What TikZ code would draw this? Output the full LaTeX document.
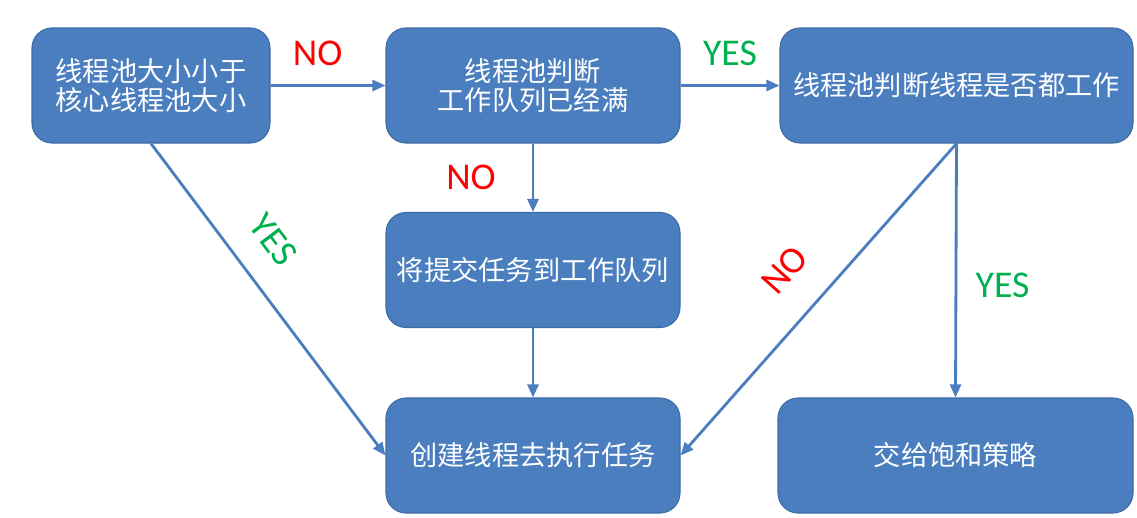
\documentclass[tikz,border=0pt]{standalone}
\usepackage{fontspec}
\setmainfont{Carlito}
\newfontfamily\cjk{Noto Sans CJK SC}
\usepackage{tikz}
\usetikzlibrary{shapes,arrows.meta,positioning,calc}
\definecolor{boxblue}{RGB}{74,126,191}
\definecolor{boxedge}{RGB}{60,106,164}
\definecolor{noRed}{RGB}{255,0,0}
\definecolor{yesGreen}{RGB}{0,176,80}

\begin{document}
\begin{tikzpicture}[
    stepbox/.style={fill=boxblue, draw=boxedge, line width=0.6pt, rounded corners=0.4cm,
        minimum height=2.3cm, align=center, text=white,
        font=\cjk\fontsize{15.5}{16.5}\selectfont},
    flow/.style={draw=boxblue, line width=1.6pt, -{Triangle[length=2.6mm,width=2.2mm]}},
    nolbl/.style={text=noRed, font=\fontsize{21.5}{22}\selectfont},
    yeslbl/.style={text=yesGreen, font=\fontsize{21.5}{22}\selectfont}
]
    \useasboundingbox (0,0) rectangle (22.74,-10.36);

    \node[stepbox, minimum width=4.76cm] (small) at (3.02,-1.71) {线程池大小小于\\核心线程池大小};
    \node[stepbox, minimum width=5.88cm] (queue) at (10.66,-1.71) {线程池判断\\工作队列已经满};
    \node[stepbox, minimum width=7.06cm] (busy) at (19.13,-1.71) {线程池判断线程是否都工作};
    \node[stepbox, minimum width=5.88cm] (submit) at (10.66,-5.40) {将提交任务到工作队列};
    \node[stepbox, minimum width=5.88cm] (create) at (10.66,-9.11) {创建线程去执行任务};
    \node[stepbox, minimum width=7.10cm] (reject) at (19.11,-9.11) {交给饱和策略};

    % branches
    \draw[flow] (small) -- node[nolbl, pos=0.41, above=0.25cm] (noA) {NO} (queue);
    \draw[flow] (queue) -- node[yeslbl, midway, above=0.25cm] (yesB) {YES} (busy);
    \draw[flow] (queue) -- node[nolbl, midway, left=0.6cm] (noB) {NO} (submit);
    \draw[flow] (submit) -- (create);
    \draw[flow] (small.south) -- node[yeslbl, pos=0.385, sloped, above=0.4cm] (yesA) {YES} (create.west);
    \draw[flow] (busy.south) -- node[nolbl, pos=0.5, sloped, above=0.5cm] (noC) {NO} (create.east);
    \draw[flow] (busy.south) -- node[yeslbl, pos=0.56, right=0.25cm] (yesC) {YES} (reject.north);
\end{tikzpicture}
\end{document}
